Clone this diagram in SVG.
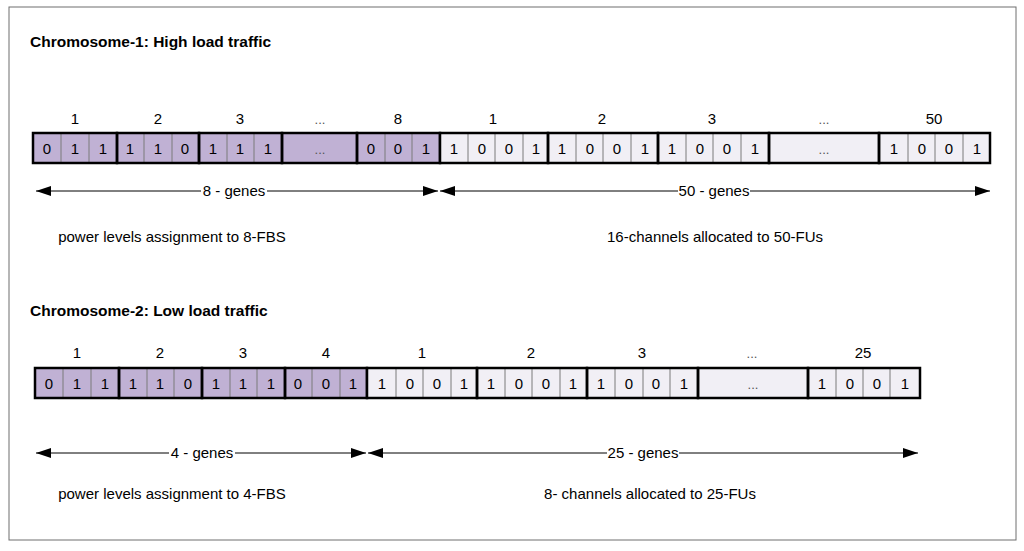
<svg xmlns="http://www.w3.org/2000/svg" width="1024" height="551" viewBox="0 0 1024 551">
<defs>
<marker id="ah" markerWidth="15" markerHeight="10" refX="15" refY="5" orient="auto-start-reverse" markerUnits="userSpaceOnUse">
<path d="M0,0 L15,5 L0,10 Z" fill="#000"/>
</marker>
</defs>
<style>
text{font-family:"Liberation Sans",Arial,sans-serif;font-size:15px;fill:#000}
.t{font-weight:bold;font-size:15.5px}
.c{text-anchor:middle}
.p{fill:#c0b1d4}
.w{fill:#f1eff5}
.g{fill:none;stroke:#000;stroke-width:2.5}
.d{stroke:#7a7a7a;stroke-width:1}
.a{stroke:#000;stroke-width:1;fill:none;marker-start:url(#ah);marker-end:url(#ah)}
.dots{fill:#555;font-size:13px}
</style>
<rect x="9" y="7" width="1007" height="533" fill="#fff" stroke="#6e6e6e" stroke-width="1"/>

<g id="chromosome1">
<text class="t" x="30" y="47">Chromosome-1: High load traffic</text>
<g id="c1-power">
<rect class="p" x="33" y="133" width="407" height="30"/>
<line class="d" x1="61" y1="133" x2="61" y2="163"/><line class="d" x1="89" y1="133" x2="89" y2="163"/>
<line class="d" x1="144" y1="133" x2="144" y2="163"/><line class="d" x1="172" y1="133" x2="172" y2="163"/>
<line class="d" x1="227" y1="133" x2="227" y2="163"/><line class="d" x1="254" y1="133" x2="254" y2="163"/>
<line class="d" x1="385" y1="133" x2="385" y2="163"/><line class="d" x1="412" y1="133" x2="412" y2="163"/>
<rect class="g" x="33" y="133" width="84" height="30"/>
<rect class="g" x="117" y="133" width="82" height="30"/>
<rect class="g" x="199" y="133" width="83" height="30"/>
<rect class="g" x="282" y="133" width="75" height="30"/>
<rect class="g" x="357" y="133" width="83" height="30"/>
<text class="c" x="47" y="154">0</text><text class="c" x="75" y="154">1</text><text class="c" x="103" y="154">1</text>
<text class="c" x="130" y="154">1</text><text class="c" x="158" y="154">1</text><text class="c" x="185" y="154">0</text>
<text class="c" x="213" y="154">1</text><text class="c" x="240" y="154">1</text><text class="c" x="268" y="154">1</text>
<text class="c dots" x="320" y="154">...</text>
<text class="c" x="371" y="154">0</text><text class="c" x="398" y="154">0</text><text class="c" x="426" y="154">1</text>
<text class="c" x="75" y="124">1</text><text class="c" x="158" y="124">2</text><text class="c" x="240" y="124">3</text>
<text class="c dots" x="320" y="124">...</text><text class="c" x="398" y="124">8</text>
</g>
<g id="c1-channels">
<rect class="w" x="440" y="133" width="550" height="30"/>
<line class="d" x1="468" y1="133" x2="468" y2="163"/><line class="d" x1="495" y1="133" x2="495" y2="163"/><line class="d" x1="523" y1="133" x2="523" y2="163"/>
<line class="d" x1="576" y1="133" x2="576" y2="163"/><line class="d" x1="603" y1="133" x2="603" y2="163"/><line class="d" x1="631" y1="133" x2="631" y2="163"/>
<line class="d" x1="686" y1="133" x2="686" y2="163"/><line class="d" x1="713" y1="133" x2="713" y2="163"/><line class="d" x1="741" y1="133" x2="741" y2="163"/>
<line class="d" x1="908" y1="133" x2="908" y2="163"/><line class="d" x1="935" y1="133" x2="935" y2="163"/><line class="d" x1="963" y1="133" x2="963" y2="163"/>
<rect class="g" x="440" y="133" width="108" height="30"/>
<rect class="g" x="548" y="133" width="110" height="30"/>
<rect class="g" x="658" y="133" width="111" height="30"/>
<rect class="g" x="769" y="133" width="110" height="30"/>
<rect class="g" x="879" y="133" width="111" height="30"/>
<text class="c" x="454" y="154">1</text><text class="c" x="482" y="154">0</text><text class="c" x="509" y="154">0</text><text class="c" x="536" y="154">1</text>
<text class="c" x="562" y="154">1</text><text class="c" x="590" y="154">0</text><text class="c" x="617" y="154">0</text><text class="c" x="645" y="154">1</text>
<text class="c" x="672" y="154">1</text><text class="c" x="700" y="154">0</text><text class="c" x="727" y="154">0</text><text class="c" x="755" y="154">1</text>
<text class="c dots" x="824" y="154">...</text>
<text class="c" x="894" y="154">1</text><text class="c" x="922" y="154">0</text><text class="c" x="949" y="154">0</text><text class="c" x="977" y="154">1</text>
<text class="c" x="493" y="124">1</text><text class="c" x="602" y="124">2</text><text class="c" x="712" y="124">3</text>
<text class="c dots" x="824" y="124">...</text><text class="c" x="934" y="124">50</text>
</g>
<text class="c" x="172" y="242">power levels assignment to 8-FBS</text>
<text class="c" x="715" y="242">16-channels allocated to 50-FUs</text>
</g>

<g id="chromosome2">
<text class="t" x="30" y="316">Chromosome-2: Low load traffic</text>
<g id="c2-power">
<rect class="p" x="35" y="368" width="332" height="30"/>
<line class="d" x1="63" y1="368" x2="63" y2="398"/><line class="d" x1="91" y1="368" x2="91" y2="398"/>
<line class="d" x1="147" y1="368" x2="147" y2="398"/><line class="d" x1="174" y1="368" x2="174" y2="398"/>
<line class="d" x1="230" y1="368" x2="230" y2="398"/><line class="d" x1="257" y1="368" x2="257" y2="398"/>
<line class="d" x1="312" y1="368" x2="312" y2="398"/><line class="d" x1="340" y1="368" x2="340" y2="398"/>
<rect class="g" x="35" y="368" width="84" height="30"/>
<rect class="g" x="119" y="368" width="83" height="30"/>
<rect class="g" x="202" y="368" width="83" height="30"/>
<rect class="g" x="285" y="368" width="82" height="30"/>
<text class="c" x="49" y="389">0</text><text class="c" x="77" y="389">1</text><text class="c" x="105" y="389">1</text>
<text class="c" x="133" y="389">1</text><text class="c" x="160" y="389">1</text><text class="c" x="188" y="389">0</text>
<text class="c" x="216" y="389">1</text><text class="c" x="243" y="389">1</text><text class="c" x="271" y="389">1</text>
<text class="c" x="298" y="389">0</text><text class="c" x="326" y="389">0</text><text class="c" x="353" y="389">1</text>
<text class="c" x="77" y="358">1</text><text class="c" x="160" y="358">2</text><text class="c" x="243" y="358">3</text><text class="c" x="326" y="358">4</text>
</g>
<g id="c2-channels">
<rect class="w" x="367" y="368" width="553" height="30"/>
<line class="d" x1="396" y1="368" x2="396" y2="398"/><line class="d" x1="423" y1="368" x2="423" y2="398"/><line class="d" x1="451" y1="368" x2="451" y2="398"/>
<line class="d" x1="505" y1="368" x2="505" y2="398"/><line class="d" x1="532" y1="368" x2="532" y2="398"/><line class="d" x1="560" y1="368" x2="560" y2="398"/>
<line class="d" x1="615" y1="368" x2="615" y2="398"/><line class="d" x1="643" y1="368" x2="643" y2="398"/><line class="d" x1="670" y1="368" x2="670" y2="398"/>
<line class="d" x1="836" y1="368" x2="836" y2="398"/><line class="d" x1="863" y1="368" x2="863" y2="398"/><line class="d" x1="890" y1="368" x2="890" y2="398"/>
<rect class="g" x="367" y="368" width="110" height="30"/>
<rect class="g" x="477" y="368" width="110" height="30"/>
<rect class="g" x="587" y="368" width="111" height="30"/>
<rect class="g" x="698" y="368" width="110" height="30"/>
<rect class="g" x="808" y="368" width="112" height="30"/>
<text class="c" x="382" y="389">1</text><text class="c" x="410" y="389">0</text><text class="c" x="437" y="389">0</text><text class="c" x="464" y="389">1</text>
<text class="c" x="491" y="389">1</text><text class="c" x="519" y="389">0</text><text class="c" x="546" y="389">0</text><text class="c" x="573" y="389">1</text>
<text class="c" x="601" y="389">1</text><text class="c" x="629" y="389">0</text><text class="c" x="656" y="389">0</text><text class="c" x="684" y="389">1</text>
<text class="c dots" x="753" y="389">...</text>
<text class="c" x="822" y="389">1</text><text class="c" x="850" y="389">0</text><text class="c" x="877" y="389">0</text><text class="c" x="905" y="389">1</text>
<text class="c" x="422" y="358">1</text><text class="c" x="531" y="358">2</text><text class="c" x="642" y="358">3</text>
<text class="c dots" x="752" y="358">...</text><text class="c" x="863" y="358">25</text>
</g>
<text class="c" x="172" y="499">power levels assignment to 4-FBS</text>
<text class="c" x="650" y="499">8- channels allocated to 25-FUs</text>
</g>

<g id="connectors">
<line class="a" x1="36" y1="191" x2="438" y2="191"/>
<line class="a" x1="440" y1="191" x2="990" y2="191"/>
<line class="a" x1="36" y1="453" x2="366" y2="453"/>
<line class="a" x1="368" y1="453" x2="918" y2="453"/>
<rect x="201" y="183" width="66" height="16" fill="#fff"/>
<text class="c" x="234" y="196">8 - genes</text>
<rect x="678" y="183" width="72" height="16" fill="#fff"/>
<text class="c" x="714" y="196">50 - genes</text>
<rect x="169" y="445" width="66" height="16" fill="#fff"/>
<text class="c" x="202" y="458">4 - genes</text>
<rect x="607" y="445" width="72" height="16" fill="#fff"/>
<text class="c" x="643" y="458">25 - genes</text>
</g>
</svg>
